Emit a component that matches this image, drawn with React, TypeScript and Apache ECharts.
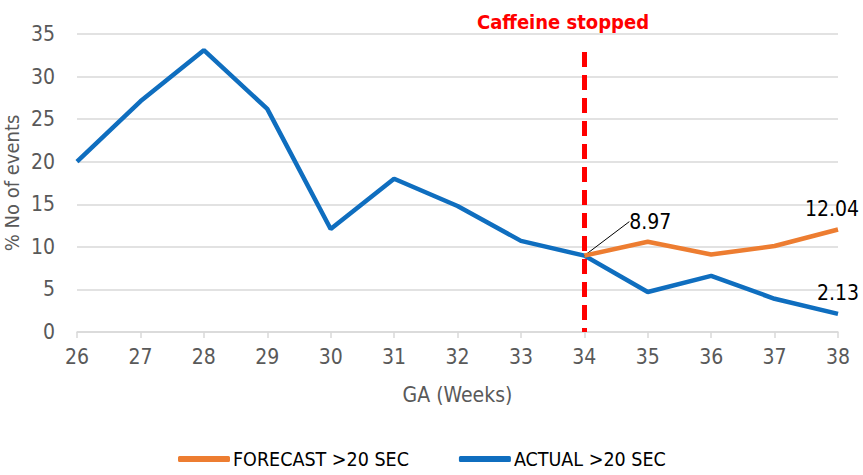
import React, { useEffect, useRef } from "react";
import * as echarts from "echarts";

const weeks = ["26", "27", "28", "29", "30", "31", "32", "33", "34", "35", "36", "37", "38"];
const actual = [20, 27.1, 33.1, 26.2, 12.1, 18.0, 14.8, 10.7, 8.97, 4.7, 6.6, 3.9, 2.13];
const forecast = [null, null, null, null, null, null, null, null, 8.97, 10.6, 9.1, 10.1, 12.04];
const yTicks = { min: 0, max: 35, interval: 5 };
const stopWeek = "34";
const stopTop = 32.9;
const labelledActual = [8, 12];
const labelledForecast = [12];

const FONT = "'Liberation Sans Narrow', 'DejaVu Sans Condensed', sans-serif";

export default function App() {
  const ref = useRef<HTMLDivElement>(null);
  useEffect(() => {
    if (!ref.current) return;
    document.body.style.margin = "0";
    const chart = echarts.init(ref.current, undefined, { renderer: "svg" });
    const lbl = { color: "#000000", fontSize: 21, fontFamily: FONT };
    chart.setOption({
      animation: false,
      backgroundColor: "#ffffff",
      title: {
        text: "Caffeine stopped",
        left: 558,
        top: 7,
        textAlign: "center",
        textStyle: { color: "#FF0000", fontWeight: "bold", fontSize: 20, fontFamily: FONT },
      },
      grid: { left: 77, right: 25, top: 34, bottom: 143, containLabel: false, outerBoundsMode: "none" },
      legend: {
        bottom: 1,
        left: 173,
        itemWidth: 52,
        itemHeight: 6,
        itemGap: 50,
        icon: "roundRect",
        textStyle: { color: "#000000", fontSize: 19.5, fontFamily: FONT, padding: [0, 0, 0, -2] },
        data: ["FORECAST >20 SEC", "ACTUAL >20 SEC"],
      },
      xAxis: {
        type: "category",
        data: weeks,
        boundaryGap: false,
        name: "GA (Weeks)",
        nameLocation: "middle",
        nameGap: 52,
        nameMoveOverlap: false,
        nameTextStyle: { color: "#595959", fontSize: 21, fontFamily: FONT },
        axisLine: { lineStyle: { color: "#d9d9d9", width: 1.5 } },
        axisTick: { show: true, length: 6, lineStyle: { color: "#d9d9d9", width: 1.5 } },
        axisLabel: { color: "#595959", fontSize: 21, fontFamily: FONT, margin: 14 },
        splitLine: { show: false },
      },
      yAxis: {
        type: "value",
        min: yTicks.min,
        max: yTicks.max,
        interval: yTicks.interval,
        name: "% No of events",
        nameLocation: "middle",
        nameGap: 55,
        nameMoveOverlap: false,
        nameTextStyle: { color: "#595959", fontSize: 20, fontFamily: FONT },
        axisLine: { show: false },
        axisTick: { show: false },
        axisLabel: { color: "#595959", fontSize: 21, fontFamily: FONT, margin: 22 },
        splitLine: { lineStyle: { color: "#d9d9d9", width: 1.5 } },
      },
      series: [
        {
          name: "FORECAST >20 SEC",
          type: "line",
          data: forecast.map((v, i) =>
            labelledForecast.includes(i)
              ? { value: v, label: { show: true, position: "top", distance: 10, offset: [-6, 0] } }
              : v
          ),
          color: "#ED7D31",
          lineStyle: { width: 4.5, color: "#ED7D31" },
          showSymbol: true,
          symbol: "circle",
          symbolSize: 0,
          label: { show: false, ...lbl },
          z: 3,
        },
        {
          name: "ACTUAL >20 SEC",
          type: "line",
          data: actual.map((v, i) =>
            labelledActual.includes(i)
              ? i === 8
                ? {
                    value: v,
                    label: { show: true, position: "right", distance: 5 },
                    labelLine: { show: true, lineStyle: { color: "#000000", width: 1 } },
                  }
                : { value: v, label: { show: true, position: "top", distance: 10, offset: [-2, 0] } }
              : v
          ),
          color: "#0F6EBF",
          lineStyle: { width: 4.5, color: "#0F6EBF" },
          showSymbol: true,
          symbol: "circle",
          symbolSize: 0,
          label: { show: false, ...lbl },
          labelLayout: (params: any) => (params.dataIndex === 8 ? { dx: 40, dy: -34 } : {}),
          labelLine: { show: false },
          z: 2,
          markLine: {
            silent: true,
            symbol: "none",
            label: { show: false },
            lineStyle: { color: "#FF0000", type: [15, 8], width: 5 },
            data: [
              [
                { coord: [stopWeek, stopTop] },
                { coord: [stopWeek, 0] },
              ],
            ],
            z: 5,
          },
        },
      ],
    });
    return () => chart.dispose();
  }, []);
  return <div ref={ref} style={{ width: 863, height: 475 }} />;
}
